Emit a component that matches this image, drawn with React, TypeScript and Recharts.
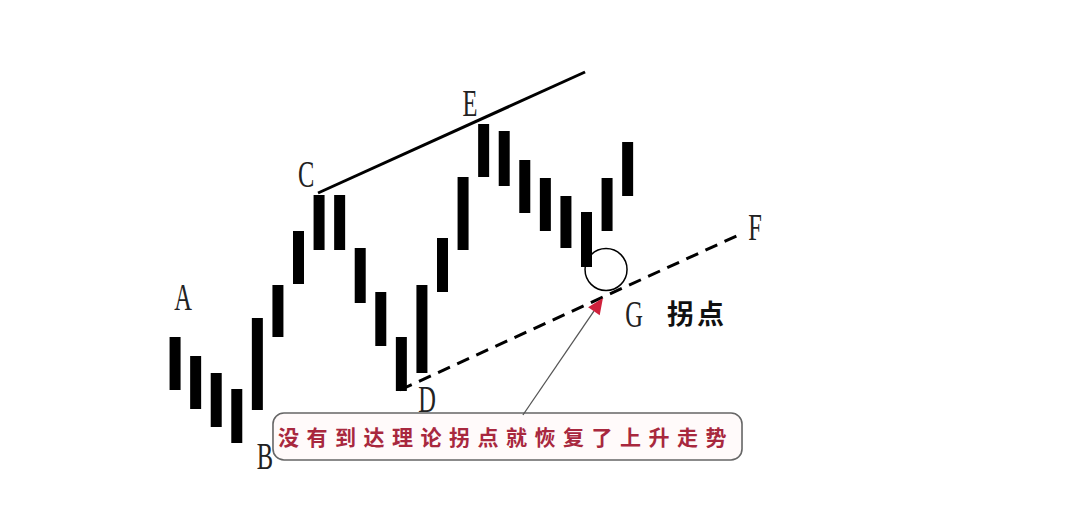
import {
  ComposedChart,
  Bar,
  XAxis,
  YAxis,
  ReferenceLine,
  ReferenceDot,
  ReferenceArea,
} from "recharts";

// bar index along the time axis
const bars = [1, 2, 3, 4, 5, 6, 7, 8, 9, 10, 11, 12, 13, 14, 15, 16, 17, 18, 19, 20, 21, 22, 23];
// low / high of every bar
const lows = [23, 19.2, 15.6, 12.4, 19, 33.6, 44.2, 51, 51, 40.4, 31.8, 22.8, 26.4, 42.6, 51, 65.6, 63.8, 58.4, 54.8, 51.4, 47.6, 54.8, 61.8];
const highs = [33.6, 29.8, 26.4, 23.2, 37.4, 44, 54.8, 62, 62, 51.4, 42.6, 33.6, 44, 53.4, 65.6, 76.2, 74.8, 69, 65.4, 61.8, 58.6, 65.4, 72.6];

// upper trend line C -> E and the dashed support line D -> F
const resistance = [{ x: 7.96, y: 62.4 }, { x: 20.94, y: 86.6 }];
const support = [{ x: 11.94, y: 23 }, { x: 28.62, y: 54.4 }];
// circle around the turning point
const turnPoint = { x: 21.96, y: 47.1 };
// arrow from the note to the line
const arrow = [{ x: 17.92, y: 18 }, { x: 21.81, y: 41.4 }];

const letters = ["A", "B", "C", "D", "E", "F", "G"];
const letterX = [1.4, 5.38, 7.38, 13.26, 15.35, 29.2, 23.32];
const letterY = [41.4, 9.6, 66, 21, 80.2, 55.4, 38];

const turnLabel = { text: "拐点", x: 26.38, y: 38.2 };
const note = { text: "没有到达理论拐点就恢复了上升走势", x1: 5.77, x2: 28.57, y1: 9, y2: 18.4 };

const data = bars.map((i, k) => ({ i, range: [lows[k], highs[k]] }));

const Letter = (p: any) => (
  <text
    transform={`translate(${p.cx},${p.cy}) scale(0.72,1.1)`}
    textAnchor="middle"
    y={11.2}
    fontFamily="Liberation Serif"
    fontSize={34}
    fill="#222"
  >
    {p.text}
  </text>
);

const Arrow = (p: any) => {
  const { x1, y1, x2, y2 } = p;
  const a = Math.atan2(y2 - y1, x2 - x1);
  const len = 16;
  const w = 7;
  const bx = x2 - len * Math.cos(a);
  const by = y2 - len * Math.sin(a);
  const nx = -Math.sin(a) * w;
  const ny = Math.cos(a) * w;
  return (
    <g>
      <line x1={x1} y1={y1} x2={bx} y2={by} stroke="#555" strokeWidth={1.3} />
      <polygon
        points={`${x2},${y2} ${bx + nx},${by + ny} ${bx - nx},${by - ny}`}
        fill="#d0213c"
      />
    </g>
  );
};

const NoteBox = (p: any) => (
  <g>
    <rect
      x={p.x}
      y={p.y}
      width={p.width}
      height={p.height}
      rx={11}
      fill="#fffafa"
      stroke="#666"
      strokeWidth={1.6}
    />
    <text
      x={p.x + 5}
      y={p.y + p.height / 2 + 8}
      fontFamily="Noto Sans CJK SC"
      fontWeight="bold"
      fontSize={21}
      letterSpacing={7.5}
      fill="#a8283e"
    >
      {note.text}
    </text>
  </g>
);

export default function App() {
  return (
    <div style={{ position: "absolute", left: 0, top: 0, width: 1080, height: 505, background: "#fff" }}>
      <ComposedChart width={1080} height={505} data={data} margin={{ top: 0, right: 0, bottom: 0, left: 0 }}>
        <XAxis dataKey="i" type="number" domain={[-7.5, 45]} hide />
        <YAxis type="number" domain={[0, 101]} hide />
        <Bar dataKey="range" barSize={11} fill="#000" isAnimationActive={false} />
        <ReferenceLine segment={resistance} stroke="#000" strokeWidth={3} ifOverflow="visible" />
        <ReferenceLine
          segment={support}
          stroke="#000"
          strokeWidth={3}
          strokeDasharray="13 8"
          ifOverflow="visible"
        />
        <ReferenceDot
          x={turnPoint.x}
          y={turnPoint.y}
          r={21}
          fill="none"
          stroke="#000"
          strokeWidth={1.5}
          ifOverflow="visible"
        />
        <ReferenceLine segment={arrow} shape={Arrow} ifOverflow="visible" />
        <ReferenceArea
          x1={note.x1}
          x2={note.x2}
          y1={note.y1}
          y2={note.y2}
          shape={NoteBox}
          ifOverflow="visible"
        />
        {letters.map((t, k) => (
          <ReferenceDot
            key={t}
            x={letterX[k]}
            y={letterY[k]}
            r={0}
            ifOverflow="visible"
            shape={(p: any) => <Letter {...p} text={t} />}
          />
        ))}
        <ReferenceDot
          x={turnLabel.x}
          y={turnLabel.y}
          r={0}
          ifOverflow="visible"
          shape={(p: any) => (
            <text
              x={p.cx}
              y={p.cy + 10}
              textAnchor="middle"
              fontFamily="Noto Sans CJK SC"
              fontWeight="bold"
              fontSize={27}
              letterSpacing={3}
              fill="#111"
            >
              {turnLabel.text}
            </text>
          )}
        />
      </ComposedChart>
    </div>
  );
}
